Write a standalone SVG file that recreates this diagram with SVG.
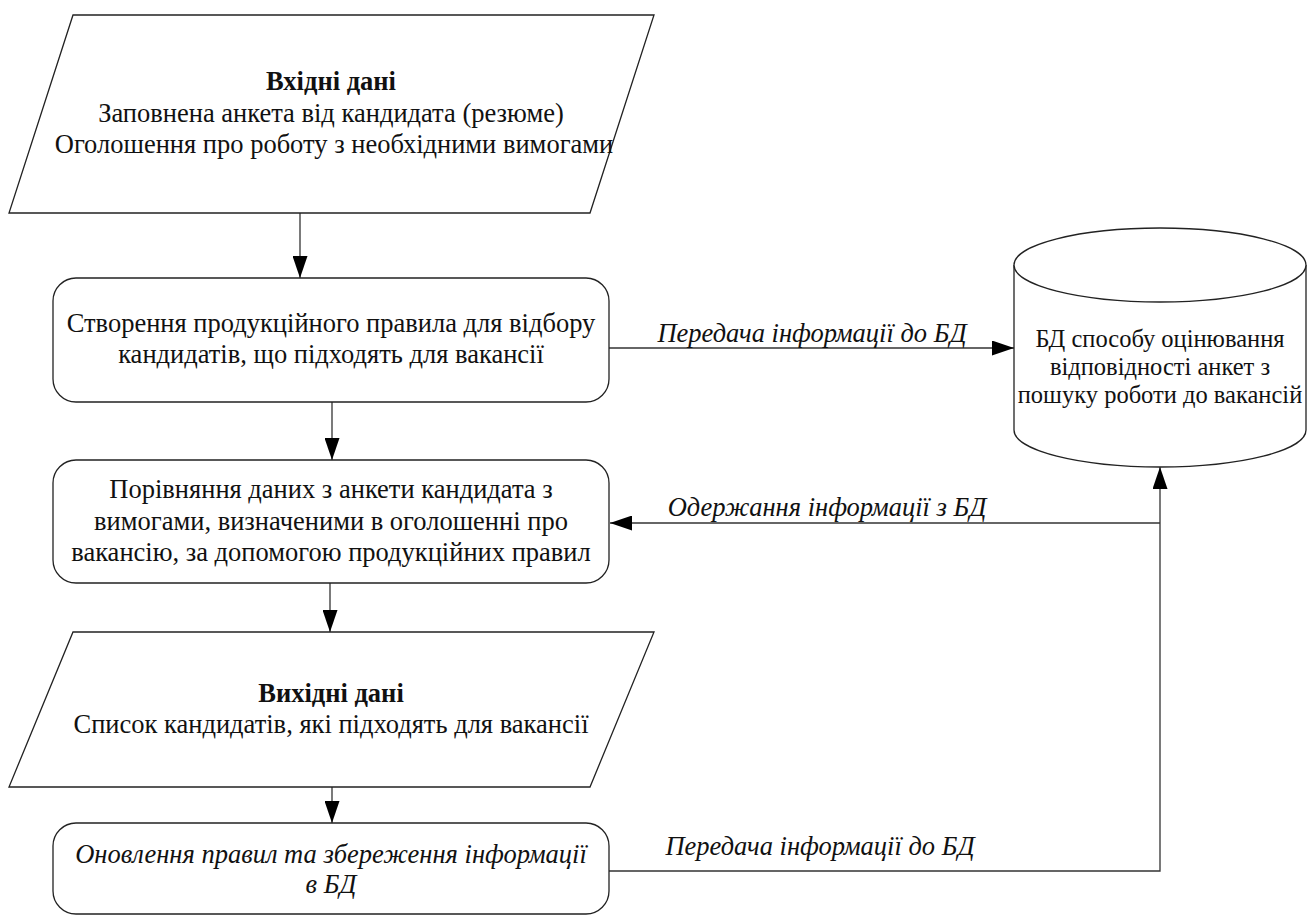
<svg xmlns="http://www.w3.org/2000/svg" width="1312" height="916" viewBox="0 0 1312 916">
<style>
.shape{fill:#ffffff;stroke:#222;stroke-width:1.3}
.conn{fill:none;stroke:#333;stroke-width:1.3}
.t{font-family:'Liberation Serif','Times New Roman',serif;font-size:26.5px;fill:#111;text-anchor:middle}
.s{font-size:24.5px}
.b{font-weight:bold}
.i{font-style:italic}
</style>
<defs>
<marker id="arr" markerUnits="userSpaceOnUse" markerWidth="22" markerHeight="15" refX="22" refY="7.5" orient="auto">
<path d="M0,0 L22,7.5 L0,15 z" fill="#000"/>
</marker>
</defs>
<rect width="1312" height="916" fill="#ffffff"/>
<g id="connectors">
<path class="conn" d="M300,213 V278" marker-end="url(#arr)"/>
<path class="conn" d="M332,402 V460" marker-end="url(#arr)"/>
<path class="conn" d="M330,583 V632" marker-end="url(#arr)"/>
<path class="conn" d="M332,787 V823" marker-end="url(#arr)"/>
<path class="conn" d="M609,348 H1014" marker-end="url(#arr)"/>
<path class="conn" d="M609,871 H1160 V467" marker-end="url(#arr)"/>
<path class="conn" d="M1160,523 H610" marker-end="url(#arr)"/>
<text class="t i" x="812" y="342">Передача інформації до БД</text>
<text class="t i" x="827" y="516">Одержання інформації з БД</text>
<text class="t i" x="820" y="855">Передача інформації до БД</text>
</g>
<g id="input">
<polygon class="shape" points="73,15 654,15 590,213 9,213"/>
<text class="t b" x="331" y="90">Вхідні дані</text>
<text class="t" x="331" y="122">Заповнена анкета від кандидата (резюме)</text>
<text class="t" x="334" y="153">Оголошення про роботу з необхідними вимогами</text>
</g>
<g id="create-rule">
<rect class="shape" x="53" y="278" width="556" height="124" rx="23" ry="23"/>
<text class="t" x="331" y="332">Створення продукційного правила для відбору</text>
<text class="t" x="331" y="363">кандидатів, що підходять для вакансії</text>
</g>
<g id="compare">
<rect class="shape" x="53" y="460" width="556" height="123" rx="23" ry="23"/>
<text class="t" x="331" y="498">Порівняння даних з анкети кандидата з</text>
<text class="t" x="331" y="530">вимогами, визначеними в оголошенні про</text>
<text class="t" x="331" y="561">вакансію, за допомогою продукційних правил</text>
</g>
<g id="output">
<polygon class="shape" points="73,632 654,632 590,787 9,787"/>
<text class="t b" x="331" y="702">Вихідні дані</text>
<text class="t" x="331" y="733">Список кандидатів, які підходять для вакансії</text>
</g>
<g id="update">
<rect class="shape" x="53" y="823" width="556" height="91" rx="23" ry="23"/>
<text class="t i" x="331" y="863">Оновлення правил та збереження інформації</text>
<text class="t i" x="331" y="893">в БД</text>
</g>
<g id="database">
<path class="shape" d="M1014,265 V430 A146,37 0 0 0 1306,430 V265"/>
<ellipse class="shape" cx="1160" cy="265" rx="146" ry="37"/>
<text class="t s" x="1160" y="347">БД способу оцінювання</text>
<text class="t s" x="1160" y="375">відповідності анкет з</text>
<text class="t s" x="1160" y="403">пошуку роботи до вакансій</text>
</g>
</svg>
